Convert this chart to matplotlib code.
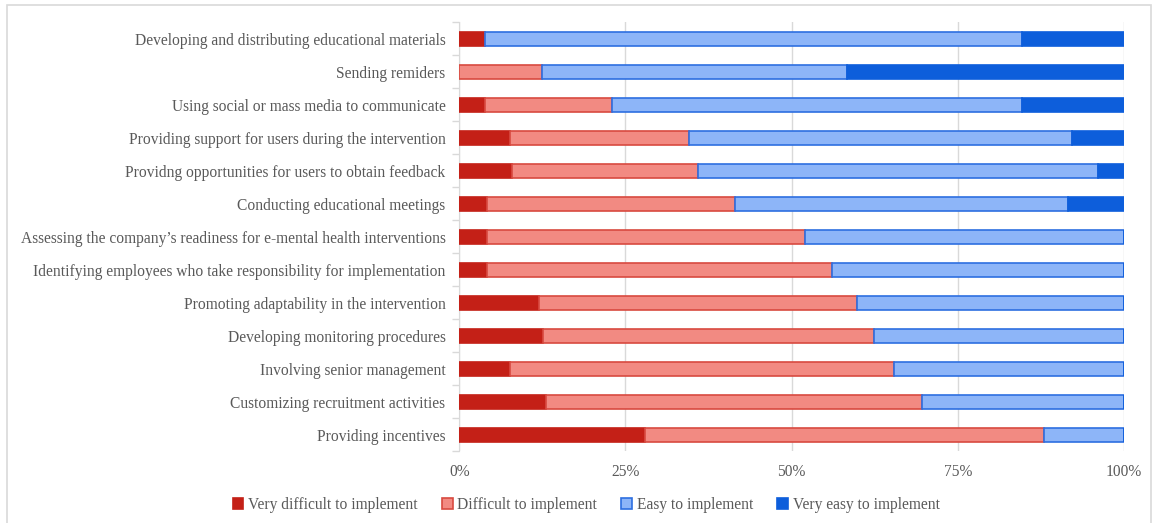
import matplotlib.pyplot as plt
from matplotlib.patches import Rectangle
import numpy as np

categories = [
    "Developing and distributing educational materials",
    "Sending remiders",
    "Using social or mass media to communicate",
    "Providing support for users during the intervention",
    "Providng opportunities for users to obtain feedback",
    "Conducting educational meetings",
    "Assessing the company\u2019s readiness for e-mental health interventions",
    "Identifying employees who take responsibility for implementation",
    "Promoting adaptability in the intervention",
    "Developing monitoring procedures",
    "Involving senior management",
    "Customizing recruitment activities",
    "Providing incentives",
]

# percentages per category
very_difficult = [3.8, 0.0, 3.9, 7.7, 7.9, 4.1, 4.1, 4.1, 12.0, 12.6, 7.7, 13.0, 28.0]
difficult = [0.0, 12.5, 19.0, 26.8, 28.0, 37.4, 47.9, 51.9, 47.9, 49.8, 57.7, 56.6, 60.0]
easy = [80.8, 45.8, 61.7, 57.7, 60.2, 50.1, 48.0, 44.0, 40.1, 37.6, 34.6, 30.4, 12.0]
very_easy = [15.4, 41.7, 15.4, 7.8, 3.9, 8.4, 0.0, 0.0, 0.0, 0.0, 0.0, 0.0, 0.0]

series_labels = ["Very difficult to implement", "Difficult to implement",
                 "Easy to implement", "Very easy to implement"]
tick_values = [0, 25, 50, 75, 100]
tick_labels = ["0%", "25%", "50%", "75%", "100%"]

plt.rcParams['font.family'] = ['Liberation Serif', 'DejaVu Serif']

fill_colors = ['#C42017', '#F28A82', '#8DB5F8', '#0D5EDB']
edge_colors = ['#C42017', '#D84A40', '#2E6FE0', '#0D5EDB']

fig = plt.figure(figsize=(11.54, 5.23), dpi=100)
ax = fig.add_axes([0.398, 0.137, 0.576, 0.820])

# cadre gris autour de la figure
fig.patches.append(Rectangle((7 / 1154, -0.01), 1144 / 1154, 1 - 5 / 523 + 0.01,
                             transform=fig.transFigure, fill=False,
                             edgecolor='#D9D9D9', linewidth=1.2))

y = np.arange(len(categories))
left = np.zeros(len(categories))
for vals, fc, ec, lab in zip([very_difficult, difficult, easy, very_easy],
                             fill_colors, edge_colors, series_labels):
    vals = np.array(vals)
    ax.barh(y, vals, left=left, height=0.43, color=fc, edgecolor=ec,
            linewidth=1.2, label=lab, zorder=3)
    left += vals

ax.set_ylim(len(categories) - 0.5, -0.5)
ax.set_xlim(0, 100)
ax.set_yticks(y)
ax.set_yticklabels(categories, fontsize=11.2, color='#595959')
ax.set_yticks(np.arange(-0.5, len(categories), 1), minor=True)
ax.tick_params(axis='y', which='major', length=0, pad=10)
ax.tick_params(axis='y', which='minor', length=5, color='#D9D9D9', width=1)
ax.set_xticks(tick_values)
ax.set_xticklabels(tick_labels, fontsize=11.2, color='#595959')
ax.tick_params(axis='x', length=0, pad=9)

ax.grid(axis='x', color='#D9D9D9', linewidth=1, zorder=0)
for s in ['top', 'right', 'bottom']:
    ax.spines[s].set_visible(False)
ax.spines['left'].set_color('#D9D9D9')

fig.legend(loc='lower center', bbox_to_anchor=(0.508, -0.008), ncol=4,
           frameon=False, fontsize=11.2, handlelength=0.7, handleheight=0.7,
           handletextpad=0.3, columnspacing=1.55, labelcolor='#595959')

fig.savefig('out.png', dpi=100)
